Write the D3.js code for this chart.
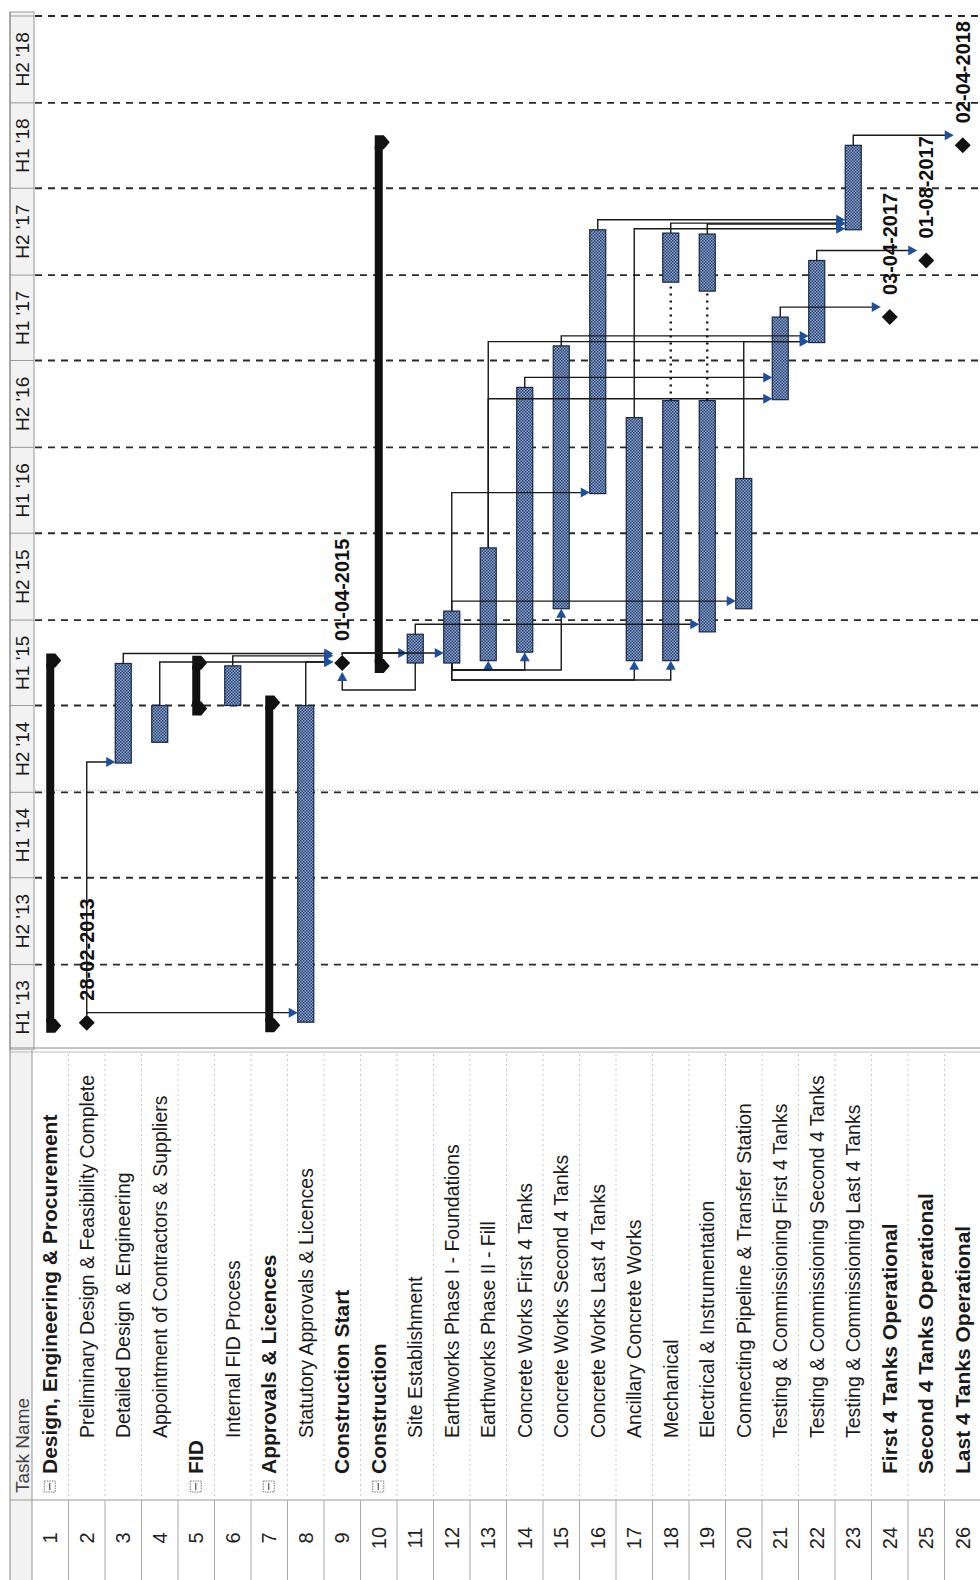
<!DOCTYPE html>
<html>
<head>
<meta charset="utf-8">
<script src="https://cdn.jsdelivr.net/npm/d3@7"></script>
<style>
  body { margin: 0; background: #fff; }
  text { font-family: "Liberation Sans", Arial, sans-serif; }
</style>
</head>
<body>
<div id="gantt"></div>
<script>
// task table, one entry per row (ID = index + 1)
const taskNames = [
  "Design, Engineering & Procurement",
  "Preliminary Design & Feasibility Complete",
  "Detailed Design & Engineering",
  "Appointment of Contractors & Suppliers",
  "FID",
  "Internal FID Process",
  "Approvals & Licences",
  "Statutory Approvals & Licences",
  "Construction Start",
  "Construction",
  "Site Establishment",
  "Earthworks Phase I -  Foundations",
  "Earthworks Phase II - Fill",
  "Concrete Works First 4  Tanks",
  "Concrete Works Second 4 Tanks",
  "Concrete Works Last 4 Tanks",
  "Ancillary Concrete Works",
  "Mechanical",
  "Electrical & Instrumentation",
  "Connecting Pipeline & Transfer Station",
  "Testing & Commissioning First 4 Tanks",
  "Testing & Commissioning Second 4 Tanks",
  "Testing & Commissioning Last 4 Tanks",
  "First 4 Tanks Operational",
  "Second 4 Tanks Operational",
  "Last 4 Tanks Operational"
];
const taskLevel = [0,1,1,1,0,1,0,1,0,0,1,1,1,1,1,1,1,1,1,1,1,1,1,0,0,0];
const taskType = ["summary","milestone","task","task","summary","task","summary","task","milestone","summary",
  "task","task","task","task","task","task","task","task","task","task","task","task","task",
  "milestone","milestone","milestone"];
const taskStart = ["2013-02-28","2013-02-28","2014-09-01","2014-10-15","2015-01-01","2015-01-01","2013-03-01",
  "2013-03-01","2015-04-01","2015-04-01","2015-04-01","2015-04-01","2015-04-06","2015-04-24","2015-07-25",
  "2016-03-25","2015-04-06","2015-04-06","2015-06-06","2015-07-25","2016-10-10","2017-02-08","2017-10-05",
  "2017-04-03","2017-08-01","2018-04-02"];
const taskFinish = ["2015-03-31","2013-02-28","2015-03-31","2015-01-01","2015-03-26","2015-03-26","2015-01-01",
  "2015-01-01","2015-04-01","2018-04-02","2015-06-01","2015-07-20","2015-12-01","2016-11-05","2017-02-01",
  "2017-10-05","2016-09-02","2016-10-08","2016-10-08","2016-04-26","2017-04-03","2017-08-01","2018-04-02",
  "2017-04-03","2017-08-01","2018-04-02"];

// split tasks: second segment after the pause
const splitRows = [18, 19];
const splitResume = ["2017-06-16", "2017-05-28"];
const splitFinish = ["2017-09-28", "2017-09-26"];

// dependencies
const linkFrom = [2,2,3,4,6,8,9,9,12,12,11,13,13,14,15,20,16,17,18,19,21,22,23, 12,12,12,12,12,11];
const linkTo   = [3,8,9,9,9,9,11,12,16,20,19,21,22,21,22,22,23,23,23,23,24,25,26, 13,14,15,17,18,9];
const linkType = ["FS","FS","FS","FS","FS","FS","FS","FS","FS","FS","FS","FS","FS","FS","FS","FS","FS","FS","FS","FS","FS","FS","FS",
  "SS","SS","SS","SS","SS","SS"];
const linkLane = [0,0,0,0,0,0,0,0,0,0,0,0,0,0,0,0,0,0,0,0,0,0,0, 1,1,1,2,2,3];

// timescale
const halfLabels = ["H1 '13","H2 '13","H1 '14","H2 '14","H1 '15","H2 '15",
  "H1 '16","H2 '16","H1 '17","H2 '17","H1 '18","H2 '18"];
const pageBreak = "2014-07-01";

const W = 980, H = 1580;
const svg = d3.select("#gantt").append("svg").attr("width", W).attr("height", H);

const parse = d3.timeParse("%Y-%m-%d");
const fmt = d3.timeFormat("%d-%m-%Y");

const rows = taskNames.map((d, i) => i + 1);
const y = d3.scaleTime().domain([parse("2013-01-01"), parse("2019-01-01")]).range([1050, 16]);
const x = d3.scaleBand().domain(rows).range([32, 981]);
const cx = r => x(r) + x.bandwidth() / 2;

const barHalf = 8, msHalf = 8;
const startY = r => y(parse(taskStart[r - 1]));
const endY = r => {
  const k = splitRows.indexOf(r);
  return y(parse(k >= 0 ? splitFinish[k] : taskFinish[r - 1]));
};

// hatch fill of the task bars
const pat = svg.append("defs").append("pattern")
  .attr("id", "hatch").attr("width", 3).attr("height", 3).attr("patternUnits", "userSpaceOnUse");
pat.append("rect").attr("width", 3).attr("height", 3).attr("fill", "#93a9cb");
pat.append("rect").attr("width", 1.5).attr("height", 1.5).attr("fill", "#223e72");
pat.append("rect").attr("x", 1.5).attr("y", 1.5).attr("width", 1.5).attr("height", 1.5).attr("fill", "#223e72");

// ---- timescale column
const halves = d3.timeMonth.every(6).range(y.domain()[0], y.domain()[1]);
svg.append("rect").attr("x", 10).attr("y", 12).attr("width", 24).attr("height", 1038)
  .attr("fill", "#f2f2f2").attr("stroke", "#999");
svg.append("g").selectAll("line").data(halves).join("line")
  .attr("x1", 10).attr("x2", 34)
  .attr("y1", d => y(d3.timeMonth.offset(d, 6))).attr("y2", d => y(d3.timeMonth.offset(d, 6)))
  .attr("stroke", "#999");
svg.append("g").selectAll("text").data(halves).join("text")
  .attr("transform", d => `translate(29,${(y(d) + y(d3.timeMonth.offset(d, 6))) / 2}) rotate(-90)`)
  .attr("text-anchor", "middle").style("font-size", "19px").attr("fill", "#1a1a1a")
  .text((d, i) => halfLabels[i]);

// dashed half-year gridlines
svg.append("g").selectAll("line").data(halves.map(d => d3.timeMonth.offset(d, 6))).join("line")
  .attr("x1", 35).attr("x2", W)
  .attr("y1", d => y(d)).attr("y2", d => y(d))
  .attr("stroke", "#2a2a2a").attr("stroke-width", 1.8).attr("stroke-dasharray", "7,6");
svg.append("line").attr("x1", 35).attr("x2", W)
  .attr("y1", y(parse(pageBreak)) - 2).attr("y2", y(parse(pageBreak)) - 2)
  .attr("stroke", "#aaa").attr("stroke-width", 1).attr("stroke-dasharray", "1,2");

// ---- summary bars
const sumRows = rows.filter(r => taskType[r - 1] === "summary");
const gs = svg.append("g").attr("fill", "#111");
sumRows.forEach(r => {
  const c = cx(r), y0 = startY(r), y1 = endY(r);
  gs.append("rect").attr("x", c - 4).attr("y", y1).attr("width", 8).attr("height", y0 - y1);
  [[y0, 1], [y1, -1]].forEach(([e, dir]) => {
    const ec = e + 3 * dir;
    gs.append("polygon").attr("points",
      [[c - 4, ec - 7], [c + 5, ec - 7], [c + 11, ec], [c + 5, ec + 7], [c - 4, ec + 7]].join(" "));
  });
});

// ---- task bars
const taskRows = rows.filter(r => taskType[r - 1] === "task");
const segs = taskRows.map(r => ({ r, s: taskStart[r - 1], f: taskFinish[r - 1] }))
  .concat(splitRows.map((r, k) => ({ r, s: splitResume[k], f: splitFinish[k] })));

// dotted split connectors
svg.append("g").selectAll("line").data(splitRows).join("line")
  .attr("x1", d => cx(d)).attr("x2", d => cx(d))
  .attr("y1", d => y(parse(taskFinish[d - 1]))).attr("y2", (d, k) => y(parse(splitResume[k])))
  .attr("stroke", "#111").attr("stroke-width", 2.4).attr("stroke-dasharray", "2,5");

svg.append("g").selectAll("rect").data(segs).join("rect")
  .attr("x", d => cx(d.r) - barHalf).attr("width", barHalf * 2)
  .attr("y", d => y(parse(d.f))).attr("height", d => y(parse(d.s)) - y(parse(d.f)))
  .attr("fill", "url(#hatch)").attr("stroke", "#14264a").attr("stroke-width", 1.2);

// ---- dependency links
const gl = svg.append("g");
const arrowRight = (tx, ty) => `M${tx},${ty} L${tx - 9},${ty - 5} L${tx - 9},${ty + 5} Z`;
const arrowUp = (tx, ty) => `M${tx},${ty} L${tx - 5},${ty + 9} L${tx + 5},${ty + 9} Z`;
linkFrom.forEach((p, i) => {
  const s = linkTo[i];
  const px = cx(p), sx = cx(s);
  const sMs = taskType[s - 1] === "milestone", pMs = taskType[p - 1] === "milestone";
  let d, a;
  if (linkType[i] === "FS") {
    const from = pMs ? endY(p) - msHalf : endY(p);
    const ay = Math.min(startY(s) - 1, endY(p) - 10);
    const tip = sx - (sMs ? msHalf + 1 : barHalf);
    d = `M${px},${from} V${ay} H${tip - 8}`;
    a = arrowRight(tip, ay);
  } else {
    const from = startY(p);
    const low = from + linkLane[i] * 10 - 3;
    const tip = sMs ? startY(s) + msHalf + 1 : startY(s);
    d = `M${px},${from} V${low} H${sx} V${tip + 8}`;
    a = arrowUp(sx, tip);
  }
  gl.append("path").attr("d", d).attr("fill", "none").attr("stroke", "#1a1a1a").attr("stroke-width", 1.4);
  gl.append("path").attr("d", a).attr("fill", "#1d4f9f");
});

// ---- milestones
const msRows = rows.filter(r => taskType[r - 1] === "milestone");
svg.append("g").selectAll("path").data(msRows).join("path")
  .attr("d", r => {
    const c = cx(r), m = startY(r);
    return `M${c},${m - msHalf} L${c + msHalf},${m} L${c},${m + msHalf} L${c - msHalf},${m} Z`;
  })
  .attr("fill", "#111");
svg.append("g").selectAll("text").data(msRows).join("text")
  .attr("transform", r => `translate(${cx(r) + 7},${startY(r) - 22}) rotate(-90)`)
  .style("font-size", "20px").style("font-weight", "bold").attr("fill", "#111")
  .text(r => fmt(parse(taskStart[r - 1])));

// ---- task table
const tTop = 1050, idTop = 1500;
svg.append("rect").attr("x", 10).attr("y", tTop).attr("width", W - 10).attr("height", H - tTop)
  .attr("fill", "#fff");
svg.append("rect").attr("x", 10).attr("y", tTop).attr("width", 22).attr("height", H - tTop)
  .attr("fill", "#f2f2f2");
svg.append("line").attr("x1", 10).attr("x2", W).attr("y1", tTop - 2).attr("y2", tTop - 2).attr("stroke", "#888");
svg.append("line").attr("x1", 10).attr("x2", W).attr("y1", tTop + 2).attr("y2", tTop + 2).attr("stroke", "#bbb");
svg.append("line").attr("x1", 10).attr("x2", W).attr("y1", idTop).attr("y2", idTop).attr("stroke", "#999");
svg.append("line").attr("x1", 10).attr("x2", 10).attr("y1", 12).attr("y2", H).attr("stroke", "#888");
svg.append("line").attr("x1", 32).attr("x2", 32).attr("y1", tTop).attr("y2", H).attr("stroke", "#999");

const seps = rows.map(r => x(r) + x.bandwidth());
svg.append("g").selectAll("line").data(seps).join("line")
  .attr("x1", d => d).attr("x2", d => d).attr("y1", idTop).attr("y2", H)
  .attr("stroke", "#aaa");
svg.append("g").selectAll("line").data(seps).join("line")
  .attr("x1", d => d).attr("x2", d => d).attr("y1", tTop + 4).attr("y2", idTop)
  .attr("stroke", "#ccc").attr("stroke-dasharray", "2,3");

svg.append("text").attr("transform", `translate(29,1493) rotate(-90)`)
  .style("font-size", "19px").attr("fill", "#444").text("Task Name");

svg.append("g").selectAll("text").data(rows).join("text")
  .attr("transform", r => `translate(${cx(r) + 7},1538) rotate(-90)`)
  .attr("text-anchor", "middle").style("font-size", "20px").attr("fill", "#222")
  .text(r => r);

svg.append("g").selectAll("text").data(rows).join("text")
  .attr("transform", r => `translate(${cx(r) + 7},${1474 - taskLevel[r - 1] * 36}) rotate(-90)`)
  .style("font-size", r => taskLevel[r - 1] === 0 ? "21px" : "19.5px")
  .style("font-weight", r => taskLevel[r - 1] === 0 ? "bold" : "normal")
  .attr("fill", "#1a1a1a")
  .text(r => taskNames[r - 1]);

// outline boxes of the summary rows
const gb = svg.append("g");
sumRows.forEach(r => {
  const c = cx(r);
  gb.append("rect").attr("x", c - 6).attr("y", 1481).attr("width", 11).attr("height", 11)
    .attr("fill", "#fff").attr("stroke", "#777").attr("stroke-dasharray", "1.5,1");
  gb.append("line").attr("x1", c - 0.5).attr("x2", c - 0.5).attr("y1", 1483).attr("y2", 1490)
    .attr("stroke", "#333");
});
</script>
</body>
</html>
